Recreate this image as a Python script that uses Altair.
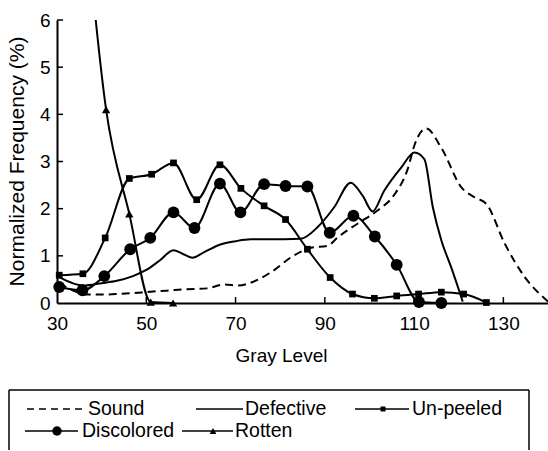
import altair as alt
import pandas as pd

# ---------------- data ----------------
sound_gray = [30.5, 33.5, 36.3, 40.0, 43.4, 47.0, 50.9, 54.5, 58.4, 63.6, 67.4, 70.7, 73.4,
              77.9, 83.1, 86.9, 90.6, 93.0, 97.3, 101.8, 105.6, 108.6, 110.1, 112.7, 116.1,
              120.6, 123.6, 126.2, 130.3, 134.8, 140.0]
sound_freq = [0.42, 0.27, 0.18, 0.18, 0.19, 0.21, 0.24, 0.26, 0.29, 0.31, 0.39, 0.37, 0.43,
              0.65, 1.01, 1.17, 1.21, 1.40, 1.68, 1.96, 2.30, 2.85, 3.35, 3.70, 3.29,
              2.45, 2.24, 2.10, 1.26, 0.55, 0.03]

defective_gray = [30.5, 35.9, 40.0, 43.4, 47.0, 50.0, 53.0, 56.1, 58.0, 60.3, 63.0, 66.6,
                  70.0, 73.4, 80.9, 84.6, 88.4, 92.1, 95.8, 98.5, 100.7, 103.3, 107.1,
                  110.1, 112.3, 114.2, 116.1, 118.3, 120.9]
defective_freq = [0.55, 0.37, 0.42, 0.47, 0.57, 0.70, 0.90, 1.12, 1.05, 0.96, 1.08, 1.24,
                  1.31, 1.35, 1.35, 1.36, 1.61, 2.03, 2.55, 2.27, 1.94, 2.38, 2.87,
                  3.19, 3.05, 2.03, 1.33, 0.76, 0.03]

unpeeled_gray = [30.5, 35.8, 40.8, 46.2, 51.2, 56.1, 61.3, 66.5, 71.2, 76.4, 81.2, 86.1,
                 91.2, 96.2, 101.1, 106.1, 111.0, 116.1, 121.1, 126.2]
unpeeled_freq = [0.59, 0.62, 1.38, 2.64, 2.73, 2.97, 2.19, 2.93, 2.43, 2.06, 1.77, 1.14,
                 0.54, 0.19, 0.10, 0.15, 0.19, 0.23, 0.19, 0.01]

discolored_gray = [30.5, 35.7, 40.6, 46.4, 50.9, 56.1, 60.8, 66.5, 71.1, 76.4, 81.2, 86.1,
                   91.1, 96.4, 101.2, 106.1, 111.1, 116.1]
discolored_freq = [0.34, 0.27, 0.57, 1.14, 1.38, 1.92, 1.59, 2.53, 1.92, 2.52, 2.48, 2.47,
                   1.49, 1.85, 1.41, 0.81, 0.02, 0.00]

rotten_gray = [36.0, 41.0, 46.2, 51.0, 56.0]
rotten_freq = [8.6, 4.10, 1.89, 0.02, 0.00]

series_names = ["Sound", "Defective", "Un-peeled", "Discolored", "Rotten"]
x_tick_values = [30, 50, 70, 90, 110, 130]
x_inner_ticks = [50, 70, 90, 110, 130]
y_tick_values = [0, 1, 2, 3, 4, 5, 6]
y_inner_ticks = [1, 2, 3, 4, 5, 6]

# ---------------- tables ----------------
def frame(name, xs, ys):
    return pd.DataFrame({"gray": xs, "freq": ys, "series": name})

df = pd.concat([
    frame("Sound", sound_gray, sound_freq),
    frame("Defective", defective_gray, defective_freq),
    frame("Un-peeled", unpeeled_gray, unpeeled_freq),
    frame("Discolored", discolored_gray, discolored_freq),
    frame("Rotten", rotten_gray, rotten_freq),
], ignore_index=True)

W, H = 491, 283
LEFT, TOP = 57, 20
FONT = "Liberation Sans"

x_scale = alt.Scale(domain=[30, 140], nice=False, zero=False)
y_scale = alt.Scale(domain=[0, 6], nice=False)

x_enc = alt.X("gray:Q", scale=x_scale, title="Gray Level",
              axis=alt.Axis(values=x_tick_values, ticks=False, grid=False, labelFlush=False,
                            labelPadding=11, titleX=224, titleY=52,
                            titleBaseline="middle", titleAlign="center"))
y_enc = alt.Y("freq:Q", scale=y_scale, title="Normalized Frequency (%)",
              axis=alt.Axis(values=y_tick_values, ticks=False, grid=False, labelFlush=False,
                            labelPadding=7, titleX=-40, titleY=141, titleAngle=270,
                            titleBaseline="middle", titleAlign="center", titleFontSize=21))

def sel(name):
    return alt.Chart(df).transform_filter(alt.datum.series == name)

layers = []
layers.append(sel("Sound").mark_line(color="black", strokeWidth=2, strokeDash=[8, 5],
                                     interpolate="monotone").encode(x=x_enc, y=y_enc))
layers.append(sel("Defective").mark_line(color="black", strokeWidth=2,
                                         interpolate="monotone").encode(x=x_enc, y=y_enc))
layers.append(sel("Un-peeled").mark_line(color="black", strokeWidth=2,
                                         interpolate="monotone").encode(x=x_enc, y=y_enc))
layers.append(sel("Un-peeled").mark_point(shape="square", filled=True, size=45, color="black",
                                          opacity=1).encode(x=x_enc, y=y_enc))
layers.append(sel("Discolored").mark_line(color="black", strokeWidth=2,
                                          interpolate="monotone").encode(x=x_enc, y=y_enc))
layers.append(sel("Discolored").mark_point(shape="circle", filled=True, size=140, color="black",
                                           opacity=1).encode(x=x_enc, y=y_enc))
layers.append(sel("Rotten").mark_line(color="black", strokeWidth=2, clip=True,
                                      interpolate="monotone").encode(x=x_enc, y=y_enc))
layers.append(sel("Rotten").transform_filter(alt.datum.freq <= 6)
              .mark_point(shape="triangle-up", filled=True, size=70, color="black",
                          opacity=1).encode(x=x_enc, y=y_enc))

# inward ticks
xt = pd.DataFrame({"gray": x_inner_ticks})
yt = pd.DataFrame({"freq": y_inner_ticks})
layers.append(alt.Chart(xt).mark_rule(color="black", strokeWidth=1.5)
              .encode(x=x_enc, y=alt.value(H), y2=alt.value(H - 6)))
layers.append(alt.Chart(yt).mark_rule(color="black", strokeWidth=1.5)
              .encode(y=y_enc, x=alt.value(0), x2=alt.value(6)))

# ---------------- legend (drawn manually below the plot) ----------------
one = pd.DataFrame({"k": [0]})
def rx(px):
    return px - LEFT
def ry(py):
    return py - TOP

legend_spec = {
    # name: (row_y, line_x0, line_x1, marker_x, text_x, shape, size, dash)
    "Sound": (409, 27, 86, None, 88, None, 0, [7, 5]),
    "Defective": (409, 196, 243, None, 245, None, 0, None),
    "Un-peeled": (409, 355, 409, 383, 412, "square", 25, None),
    "Discolored": (431, 25, 78, 57, 82, "circle", 90, None),
    "Rotten": (431, 182, 233, 213, 235, "triangle-up", 45, None),
}
for name in series_names:
    ly, x0, x1, mx, tx, shape, size, dash = legend_spec[name]
    rule_kw = dict(color="black", strokeWidth=1.5)
    if dash:
        rule_kw["strokeDash"] = dash
    layers.append(alt.Chart(one).mark_rule(**rule_kw).encode(
        x=alt.value(rx(x0)), x2=alt.value(rx(x1)), y=alt.value(ry(ly))))
    if shape:
        layers.append(alt.Chart(one).mark_point(shape=shape, filled=True, size=size,
                                                color="black", opacity=1).encode(
            x=alt.value(rx(mx)), y=alt.value(ry(ly))))
    layers.append(alt.Chart(one).mark_text(align="left", baseline="middle", font=FONT,
                                           fontSize=19.5, color="black").encode(
        x=alt.value(rx(tx)), y=alt.value(ry(ly)), text=alt.value(name)))

# legend frame (top, left, right edges; bottom is beyond the picture)
box_l, box_r, box_t, box_b = 9, 529, 390, 450
frame_kw = dict(color="black", strokeWidth=1.5)
layers.append(alt.Chart(one).mark_rule(**frame_kw).encode(
    x=alt.value(rx(box_l)), x2=alt.value(rx(box_r)), y=alt.value(ry(box_t))))
layers.append(alt.Chart(one).mark_rule(**frame_kw).encode(
    x=alt.value(rx(box_l)), y=alt.value(ry(box_t)), y2=alt.value(ry(box_b))))
layers.append(alt.Chart(one).mark_rule(**frame_kw).encode(
    x=alt.value(rx(box_r)), y=alt.value(ry(box_t)), y2=alt.value(ry(box_b))))

chart = alt.layer(*layers).properties(
    width=W, height=H,
    autosize=alt.AutoSizeParams(type="none"),
    padding={"left": LEFT, "top": TOP, "right": 0, "bottom": 451 - TOP - H},
    background="white",
).configure_view(stroke=None).configure_axis(
    domainColor="black", domainWidth=2,
    labelFont=FONT, labelFontSize=19, labelColor="black",
    titleFont=FONT, titleFontSize=19, titleFontWeight="normal", titleColor="black",
)

chart.save("out.html", embed_options={"renderer": "svg", "actions": False})
